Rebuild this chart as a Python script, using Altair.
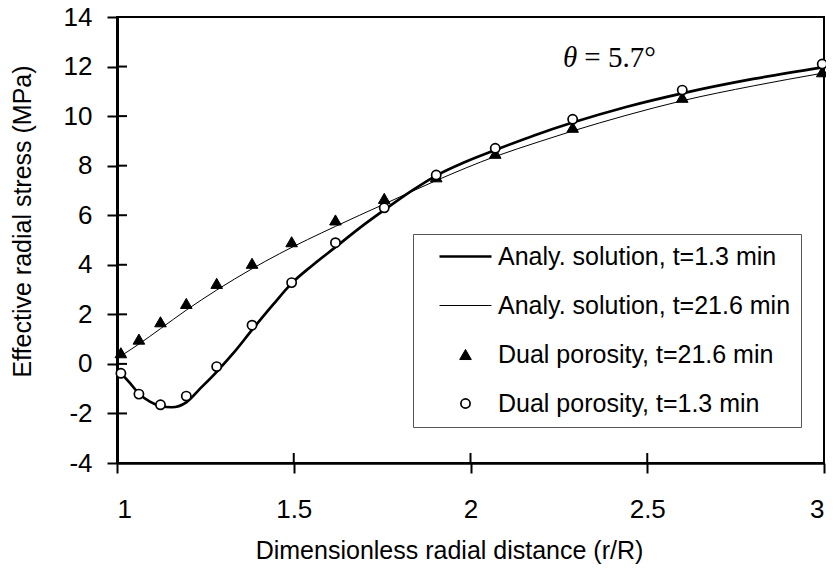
import altair as alt
import pandas as pd

S1 = "Analy. solution, t=1.3 min"
S2 = "Analy. solution, t=21.6 min"
S3 = "Dual porosity, t=21.6 min"
S4 = "Dual porosity, t=1.3 min"
series_order = [S1, S2, S3, S4]

# analytical solution, t = 1.3 min (thick line)
thick_x = [1.0, 1.037, 1.062, 1.093, 1.123, 1.155, 1.196, 1.235, 1.282, 1.329, 1.382, 1.442,
           1.494, 1.555, 1.617, 1.686, 1.756, 1.83, 1.903, 1.985, 2.07, 2.18, 2.289, 2.44,
           2.599, 2.8, 2.995]
thick_y = [-0.2, -0.78, -1.2, -1.52, -1.70, -1.75, -1.55, -1.0, -0.32, 0.43, 1.37, 2.4,
           3.25, 4.0, 4.7, 5.48, 6.21, 6.95, 7.6, 8.15, 8.63, 9.22, 9.74, 10.37,
           10.92, 11.5, 11.97]

# analytical solution, t = 21.6 min (thin line)
thin_x = [1.0, 1.062, 1.123, 1.196, 1.282, 1.382, 1.46, 1.618, 1.756, 1.903, 2.07, 2.197,
          2.289, 2.44, 2.599, 2.8, 2.995]
thin_y = [0.22, 0.80, 1.42, 2.17, 2.98, 3.84, 4.45, 5.55, 6.45, 7.4, 8.37, 8.98,
          9.4, 10.03, 10.62, 11.22, 11.73]

# dual porosity results
pts_x = [1.011, 1.062, 1.123, 1.196, 1.282, 1.382, 1.494, 1.618, 1.756, 1.903, 2.070,
         2.289, 2.599, 2.995]
tri_y = [0.45, 1.00, 1.70, 2.44, 3.25, 4.06, 4.93, 5.81, 6.68, 7.55, 8.50, 9.55, 10.76, 11.79]
circ_y = [-0.38, -1.22, -1.65, -1.30, -0.11, 1.56, 3.28, 4.89, 6.30, 7.62, 8.70, 9.87,
          11.05, 12.10]

x_ticks = [1, 1.5, 2, 2.5, 3]
y_ticks = [-4, -2, 0, 2, 4, 6, 8, 10, 12, 14]

lines_df = pd.concat([
    pd.DataFrame({"x": thick_x, "y": thick_y, "series": S1}),
    pd.DataFrame({"x": thin_x, "y": thin_y, "series": S2}),
])
pts_df = pd.concat([
    pd.DataFrame({"x": pts_x, "y": tri_y, "series": S3}),
    pd.DataFrame({"x": pts_x, "y": circ_y, "series": S4}),
])
ann_df = pd.DataFrame({"x": [2.262], "y": [11.98], "sym": ["θ"], "rest": ["= 5.7°"], "x2": [2.322]})
xt_df = pd.DataFrame({"v": x_ticks})
yt_df = pd.DataFrame({"v": y_ticks})

x_scale = alt.Scale(domain=[1, 3], nice=False, zero=False)
y_scale = alt.Scale(domain=[-4, 14], nice=False, zero=False)

stroke_scale = alt.Scale(domain=series_order, range=["black", "black", "black", "black"])
sw_scale = alt.Scale(type="ordinal", domain=series_order, range=[2.7, 1.0, 1.0, 1.7])
fill_scale = alt.Scale(domain=series_order, range=["transparent", "transparent", "black", "white"])
shape_scale = alt.Scale(domain=series_order, range=["M-4,0H4", "M-4,0H4", "triangle-up", "circle"])
size_scale = alt.Scale(type="ordinal", domain=series_order, range=[169, 169, 135, 85])

FONT = "Liberation Sans"

main_x_axis = alt.Axis(values=x_ticks, format="~g", tickSize=10, tickWidth=2, domainWidth=2.6,
                       labelFontSize=26, labelPadding=23, titleFontSize=25, titlePadding=16,
                       titleX=332, grid=False, labelExpr="'' + datum.value")
main_y_axis = alt.Axis(values=y_ticks, format="d", tickSize=10, tickWidth=2, domainWidth=3,
                       labelFontSize=26, labelPadding=15, titleFontSize=25, titlePadding=28,
                       titleY=204, grid=False, labelExpr="'' + datum.value")

leg = alt.Legend(title=None)

lines = alt.Chart(lines_df).mark_line(interpolate="monotone").encode(
    x=alt.X("x:Q", scale=x_scale, axis=main_x_axis, title="Dimensionless radial distance (r/R)"),
    y=alt.Y("y:Q", scale=y_scale, axis=main_y_axis, title="Effective radial stress (MPa)"),
    stroke=alt.Stroke("series:N", scale=stroke_scale, legend=leg),
    strokeWidth=alt.StrokeWidth("series:N", scale=sw_scale, legend=leg),
)

points = alt.Chart(pts_df).mark_point(filled=False, opacity=1).encode(
    x=alt.X("x:Q", scale=x_scale, axis=None),
    y=alt.Y("y:Q", scale=y_scale, axis=None),
    stroke=alt.Stroke("series:N", scale=stroke_scale, legend=leg),
    strokeWidth=alt.StrokeWidth("series:N", scale=sw_scale, legend=leg),
    fill=alt.Fill("series:N", scale=fill_scale, legend=leg),
    shape=alt.Shape("series:N", scale=shape_scale, legend=leg),
    size=alt.Size("series:N", scale=size_scale, legend=leg),
)

# inner halves of the tick marks (ticks cross the axis lines)
x_inner = alt.Chart(xt_df).mark_rule(color="black", strokeWidth=2).encode(
    x=alt.X("v:Q", scale=x_scale, axis=None),
    y=alt.value(436), y2=alt.value(446),
)
y_inner = alt.Chart(yt_df).mark_rule(color="black", strokeWidth=2).encode(
    y=alt.Y("v:Q", scale=y_scale, axis=None),
    x=alt.value(0), x2=alt.value(10),
)

theta = alt.Chart(ann_df).mark_text(font="Liberation Serif", fontSize=29, fontStyle="italic",
                                   align="left", baseline="alphabetic").encode(
    x=alt.X("x:Q", scale=x_scale, axis=None),
    y=alt.Y("y:Q", scale=y_scale, axis=None),
    text="sym:N",
)
theta_rest = alt.Chart(ann_df).mark_text(font="Liberation Serif", fontSize=29,
                                        align="left", baseline="alphabetic").encode(
    x=alt.X("x2:Q", scale=x_scale, axis=None),
    y=alt.Y("y:Q", scale=y_scale, axis=None),
    text="rest:N",
)

chart = alt.layer(lines, points, x_inner, y_inner, theta, theta_rest).resolve_axis(
    x="independent", y="independent"
).properties(
    width=707, height=446,
    autosize=alt.AutoSizeParams(type="none"),
    padding={"left": 109, "top": 9, "right": 2, "bottom": 103},
).configure_view(
    stroke="black", strokeWidth=2
).configure_axis(
    labelFont=FONT, titleFont=FONT, labelColor="black", titleColor="black",
    domainColor="black", tickColor="black", titleFontWeight="normal"
).configure_legend(
    orient="none", legendX=296, legendY=217, padding=10,
    strokeColor="#555", fillColor="white",
    labelFont=FONT, labelFontSize=25, labelColor="black", labelLimit=600,
    rowPadding=23, symbolOffset=30, labelOffset=20,
)

chart.save("out.html", embed_options={"renderer": "svg", "actions": False})
